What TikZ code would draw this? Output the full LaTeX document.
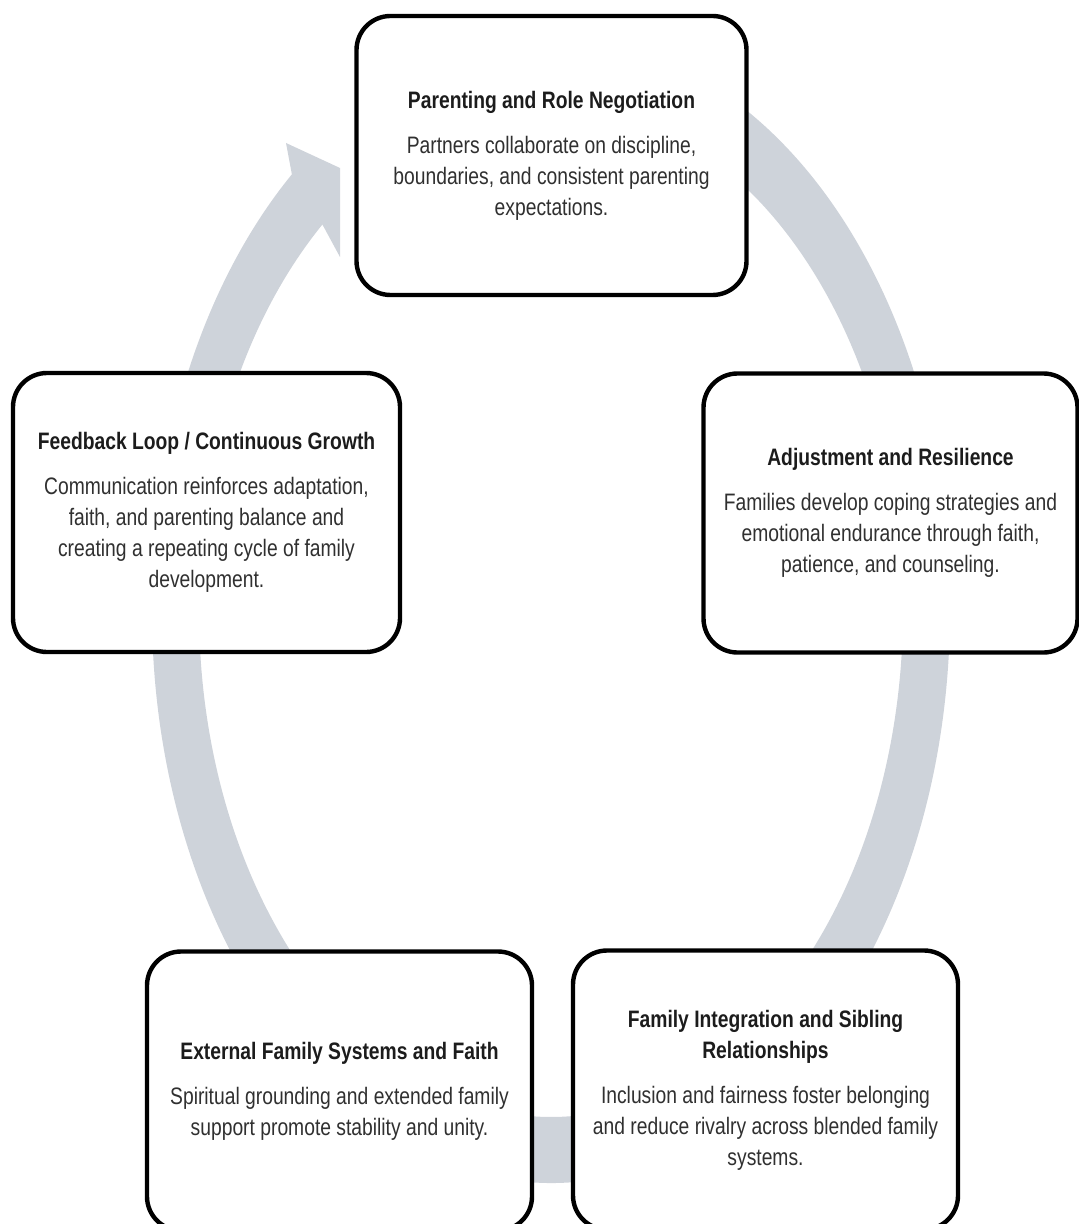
\documentclass[tikz,border=0pt]{standalone}
\usepackage{fontspec}
\setmainfont{Liberation Sans}[FakeStretch=0.81]
\usetikzlibrary{calc}
\definecolor{ringgray}{RGB}{206,211,218}
\definecolor{titletext}{RGB}{28,28,28}
\definecolor{bodytext}{RGB}{48,48,48}

\tikzset{
  stagebox/.style={draw=black, line width=2.2pt, fill=white, rounded corners=17pt,
    minimum width=193.5pt, minimum height=139.5pt, inner sep=0pt, align=center,
    text=bodytext, font=\fontsize{11.9}{15.5}\selectfont},
}
\newcommand{\stagehead}[1]{{\bfseries\color{titletext}#1}}

\begin{document}
\begin{tikzpicture}[x=0.5pt, y=-0.5pt]
  \useasboundingbox (0,0) rectangle (1079,1224);
  \begin{scope}
  \clip (0,0) rectangle (1079,1224);

  % Background ring with arrow head - drawn first
  \coordinate (ctr) at (551,610);
  \fill[ringgray] ($(ctr)+(-85:399 and 573)$)
      arc[start angle=-85, end angle=229.5, x radius=399, y radius=573]
      -- (286,143) -- (340,168) -- (340,257)
      -- ($(ctr)+(229.5:352 and 507)$)
      arc[start angle=229.5, end angle=-85, x radius=352, y radius=507] -- cycle;

  % Stage boxes
  \node[stagebox, minimum width=195pt] (parenting) at (551.5,155.5)
    {\stagehead{Parenting and Role Negotiation}\\[7pt]
     Partners collaborate on discipline,\\
     boundaries, and consistent parenting\\
     expectations.};

  \node[stagebox, minimum width=187pt] (adjustment) at (890.5,513)
    {\stagehead{Adjustment and Resilience}\\[7pt]
     Families develop coping strategies and\\
     emotional endurance through faith,\\
     patience, and counseling.};

  \node[stagebox] (feedback) at (206.5,512.5)
    {\stagehead{Feedback Loop / Continuous Growth}\\[7pt]
     Communication reinforces adaptation,\\
     faith, and parenting balance and\\
     creating a repeating cycle of family\\
     development.};

  \node[stagebox, minimum width=192.5pt] (external) at (339.5,1091)
    {\stagehead{External Family Systems and Faith}\\[7pt]
     Spiritual grounding and extended family\\
     support promote stability and unity.};

  \node[stagebox, minimum width=192.5pt] (integration) at (765.5,1090)
    {\stagehead{Family Integration and Sibling}\\
     \stagehead{Relationships}\\[7pt]
     Inclusion and fairness foster belonging\\
     and reduce rivalry across blended family\\
     systems.};
  \end{scope}
\end{tikzpicture}
\end{document}
